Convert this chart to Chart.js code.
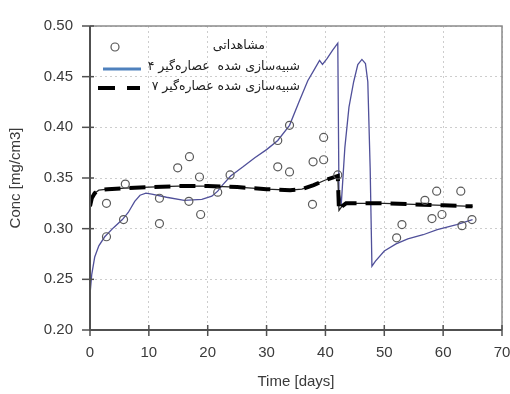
<!DOCTYPE html>
<html>
<head>
<meta charset="utf-8">
<script src="https://cdn.jsdelivr.net/npm/chart.js@4.4.1/dist/chart.umd.min.js"></script>
<style>
html,body{margin:0;padding:0;background:#fff;}
#wrap{width:510px;height:394px;position:relative;}
</style>
</head>
<body>
<div id="wrap"><canvas id="c" width="510" height="394"></canvas></div>
<script>
// ---- Data ----
const legendLabels = ["مشاهداتی", "شبیه‌سازی شده  عصاره‌گیر ۴", "شبیه‌سازی شده عصاره‌گیر ۷"];
const xTicks = [0, 10, 20, 30, 40, 50, 60, 70];
const yTicks = [0.20, 0.25, 0.30, 0.35, 0.40, 0.45, 0.50];
const xTitle = "Time [days]";
const yTitle = "Conc [mg/cm3]";

// observed points: days, concentration
const obsDays = [2.8, 2.8, 5.7, 6.0, 11.8, 11.8, 14.9, 16.9, 16.8, 18.6, 18.8, 21.7, 23.8, 31.9, 31.9, 33.9, 33.9, 37.9, 37.8, 39.7, 39.7, 42.1, 52.1, 53.0, 56.9, 58.1, 58.9, 59.8, 63.0, 63.2, 64.9];
const obsConc = [0.325, 0.292, 0.309, 0.344, 0.305, 0.330, 0.360, 0.371, 0.327, 0.351, 0.314, 0.336, 0.353, 0.361, 0.387, 0.356, 0.402, 0.366, 0.324, 0.368, 0.390, 0.353, 0.291, 0.304, 0.328, 0.310, 0.337, 0.314, 0.337, 0.303, 0.309];

// simulated, extractor 4
const sim4Days = [0, 0.3, 0.8, 1.5, 2.5, 4, 5.5, 6.5, 7.6, 8.5, 9.5, 10.5, 13, 16, 19, 20.7, 21.7, 22.5, 23.9, 26, 28, 30, 31.9, 33.9, 35.5, 37, 38.2, 39, 39.5, 40.3, 41.2, 42.1, 42.3, 42.7, 43.3, 44.0, 44.8, 45.5, 46.2, 46.8, 47.2, 47.6, 47.9, 48.5, 50, 52, 54, 56.6, 59, 62.3, 65];
const sim4Conc = [0.235, 0.255, 0.272, 0.283, 0.292, 0.301, 0.309, 0.316, 0.327, 0.333, 0.335, 0.334, 0.331, 0.328, 0.329, 0.332, 0.337, 0.343, 0.352, 0.361, 0.370, 0.378, 0.387, 0.402, 0.425, 0.446, 0.458, 0.466, 0.462, 0.468, 0.476, 0.483, 0.335, 0.325, 0.380, 0.420, 0.445, 0.462, 0.467, 0.463, 0.445, 0.360, 0.263, 0.268, 0.278, 0.285, 0.290, 0.294, 0.299, 0.304, 0.309];

// simulated, extractor 7
const sim7Days = [0, 0.3, 0.8, 1.5, 3, 6, 10, 15, 20, 25, 30, 34, 36, 38, 40, 42.1, 42.3, 42.8, 43.5, 50, 55, 60, 65];
const sim7Conc = [0.322, 0.330, 0.335, 0.338, 0.339, 0.340, 0.341, 0.342, 0.342, 0.341, 0.339, 0.338, 0.339, 0.343, 0.348, 0.352, 0.318, 0.322, 0.325, 0.325, 0.324, 0.323, 0.322];

const toXY = (xs, ys) => xs.map((x, i) => ({x: x, y: ys[i]}));

const FONT = "'Liberation Sans', Arial, sans-serif";
const TXT = '#3a3a3a';

const framePlugin = {
  id: 'frame',
  afterDraw(chart) {
    const ctx = chart.ctx, a = chart.chartArea;
    const xs = chart.scales.x, ys = chart.scales.y;
    ctx.save();
    ctx.strokeStyle = '#8a8a8a'; ctx.lineWidth = 1.5;
    ctx.beginPath();
    ctx.moveTo(a.left, a.top); ctx.lineTo(a.right, a.top); ctx.lineTo(a.right, a.bottom);
    ctx.stroke();
    ctx.strokeStyle = '#505050'; ctx.lineWidth = 2;
    ctx.beginPath();
    ctx.moveTo(a.left, a.top); ctx.lineTo(a.left, a.bottom); ctx.lineTo(a.right, a.bottom);
    ctx.stroke();
    ctx.lineWidth = 1.5;
    yTicks.forEach(v => {
      const p = ys.getPixelForValue(v);
      ctx.beginPath(); ctx.moveTo(a.left - 8, p); ctx.lineTo(a.left + 4, p); ctx.stroke();
    });
    xTicks.forEach(v => {
      const p = xs.getPixelForValue(v);
      ctx.beginPath(); ctx.moveTo(p, a.bottom - 5); ctx.lineTo(p, a.bottom + 6); ctx.stroke();
    });
    ctx.restore();
  }
};

const legendPlugin = {
  id: 'inlegend',
  afterDraw(chart) {
    const ctx = chart.ctx;
    ctx.save();
    ctx.strokeStyle = '#555'; ctx.lineWidth = 1.2;
    ctx.beginPath(); ctx.arc(115, 47, 4, 0, Math.PI * 2); ctx.stroke();
    ctx.strokeStyle = '#4f81bd'; ctx.lineWidth = 3;
    ctx.beginPath(); ctx.moveTo(103, 69); ctx.lineTo(141, 69); ctx.stroke();
    ctx.strokeStyle = '#000'; ctx.lineWidth = 4;
    ctx.beginPath(); ctx.moveTo(98, 88); ctx.lineTo(115, 88); ctx.moveTo(127, 88); ctx.lineTo(140, 88); ctx.stroke();
    ctx.fillStyle = '#222';
    ctx.font = "12.5px 'DejaVu Sans', sans-serif";
    ctx.direction = 'rtl';
    ctx.textAlign = 'right';
    ctx.textBaseline = 'middle';
    ctx.fillText(legendLabels[0], 265, 46);
    ctx.fillText(legendLabels[1], 300, 67);
    ctx.fillText(legendLabels[2], 300, 87);
    ctx.restore();
  }
};

new Chart(document.getElementById('c'), {
  type: 'scatter',
  data: {
    datasets: [
      {
        label: legendLabels[0],
        data: toXY(obsDays, obsConc),
        showLine: false,
        pointStyle: 'circle',
        pointRadius: 4,
        pointBorderWidth: 1.2,
        pointBorderColor: '#5a5a5a',
        pointBackgroundColor: 'rgba(255,255,255,0)',
        order: 0
      },
      {
        label: legendLabels[1],
        data: toXY(sim4Days, sim4Conc),
        showLine: true,
        borderColor: '#50509a',
        borderWidth: 1.3,
        pointRadius: 0,
        tension: 0,
        order: 2
      },
      {
        label: legendLabels[2],
        data: toXY(sim7Days, sim7Conc),
        showLine: true,
        borderColor: '#000',
        borderWidth: 4,
        borderDash: [16, 9],
        pointRadius: 0,
        tension: 0,
        order: 1
      },
      {
        label: 'thin',
        data: toXY(sim7Days, sim7Conc),
        showLine: true,
        borderColor: '#222',
        borderWidth: 1.2,
        pointRadius: 0,
        tension: 0,
        order: 1
      }
    ]
  },
  options: {
    responsive: false,
    animation: false,
    devicePixelRatio: 1,
    layout: { padding: { top: 23, right: 0, left: 0, bottom: 0 } },
    plugins: { legend: { display: false }, tooltip: { enabled: false } },
    scales: {
      x: {
        type: 'linear', min: 0, max: 70,
        afterBuildTicks: s => { s.ticks = xTicks.map(v => ({value: v})); },
        afterFit: s => { s.height = 64; s.paddingRight = 8; s.paddingLeft = 0; },
        grid: { color: '#cdcdcd', lineWidth: 1, drawTicks: false },
        border: { display: false, dash: [2, 3] },
        ticks: { padding: 14, color: TXT, font: { family: FONT, size: 15 }, maxRotation: 0 },
        title: { display: true, text: xTitle, color: TXT, font: { family: FONT, size: 15 }, padding: { top: 0, bottom: 3 } }
      },
      y: {
        type: 'linear', min: 0.2, max: 0.5,
        afterBuildTicks: s => { s.ticks = yTicks.map(v => ({value: v})); },
        afterFit: s => { s.width = 90; },
        grid: { color: '#cdcdcd', lineWidth: 1, drawTicks: false },
        border: { display: false, dash: [2, 3] },
        ticks: { padding: 17, color: TXT, font: { family: FONT, size: 15 }, callback: v => v.toFixed(2) },
        title: { display: true, text: yTitle, color: TXT, font: { family: FONT, size: 15 }, padding: { top: 7, bottom: 0 } }
      }
    }
  },
  plugins: [framePlugin, legendPlugin]
});
</script>
</body>
</html>
